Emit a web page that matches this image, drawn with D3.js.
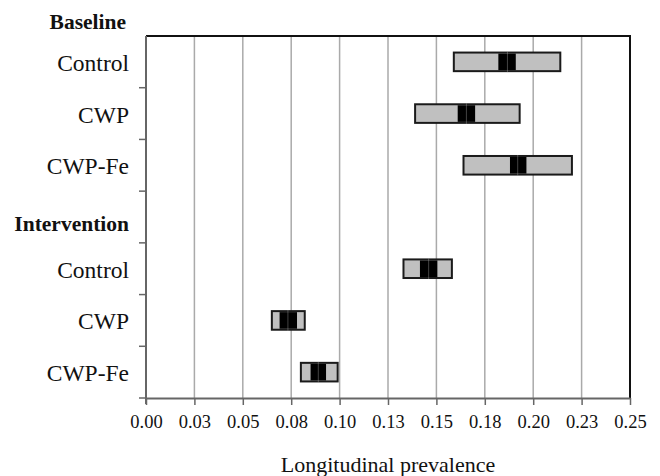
<!DOCTYPE html>
<html>
<head>
<meta charset="utf-8">
<script src="https://cdn.jsdelivr.net/npm/d3@7"></script>
<style>
  body { margin: 0; background: #fff; }
</style>
</head>
<body>
<div id="chart"></div>
<script>
// data
const groups = ['Baseline', 'Intervention'];
const arms = ['Control', 'CWP', 'CWP-Fe'];
const rangeLow = [[0.159, 0.139, 0.164], [0.133, 0.065, 0.080]];
const rangeHigh = [[0.214, 0.193, 0.220], [0.158, 0.082, 0.099]];
const ciLow = [[0.182, 0.161, 0.188], [0.1415, 0.069, 0.085]];
const ciHigh = [[0.191, 0.170, 0.1965], [0.1505, 0.078, 0.093]];
const means = [[0.1867, 0.1655, 0.192], [0.146, 0.0733, 0.089]];
const tickValues = [0, 0.025, 0.05, 0.075, 0.1, 0.125, 0.15, 0.175, 0.2, 0.225, 0.25];
const tickLabels = ['0.00', '0.03', '0.05', '0.08', '0.10', '0.13', '0.15', '0.18', '0.20', '0.23', '0.25'];

const FONT = '"Liberation Serif", "Times New Roman", serif';
const W = 660, H = 476;
const margin = {top: 36, right: 30, bottom: 78, left: 146};
const w = W - margin.left - margin.right;
const h = H - margin.top - margin.bottom;

const svg = d3.select('#chart').append('svg')
    .attr('width', W)
    .attr('height', H)
    .style('font-family', FONT);

const g = svg.append('g')
    .attr('transform', `translate(${margin.left},${margin.top})`);

// rows: 3 baseline arms, an intervention header row, 3 intervention arms
const rows = [];
arms.forEach((a, i) => rows.push({key: 'b' + i, label: a, gi: 0, ai: i}));
rows.push({key: 'ihead', label: groups[1], header: true});
arms.forEach((a, i) => rows.push({key: 'i' + i, label: a, gi: 1, ai: i}));

const x = d3.scaleLinear().domain([0, 0.25]).range([0, w]);
const y = d3.scaleBand().domain(rows.map(r => r.key)).range([0, h]).padding(0);

// gridlines
g.selectAll('.grid').data(tickValues.slice(1, -1)).enter()
    .append('line')
    .attr('x1', d => x(d)).attr('x2', d => x(d))
    .attr('y1', 0).attr('y2', h)
    .attr('stroke', '#aaa').attr('stroke-width', 1.5);

// top + right frame
g.append('path')
    .attr('d', `M0,0H${w}V${h}`)
    .attr('fill', 'none').attr('stroke', '#111').attr('stroke-width', 2);

// x axis
const xAxis = g.append('g')
    .attr('transform', `translate(0,${h})`)
    .call(d3.axisBottom(x).tickValues(tickValues).tickFormat((d, i) => tickLabels[i])
        .tickSize(7).tickSizeOuter(0).tickPadding(10));
xAxis.attr('font-family', null);
xAxis.select('.domain').attr('stroke', '#666').attr('stroke-width', 2);
xAxis.selectAll('.tick line').attr('stroke', '#666').attr('stroke-width', 1.5);
xAxis.selectAll('.tick text')
    .style('font-family', FONT).style('font-size', '18.5px').attr('fill', '#111');

// y axis: ticks at row boundaries
const yBounds = rows.map(r => y(r.key)).slice(1).concat([h]);
const yAxis = g.append('g');
yAxis.append('line')
    .attr('x1', 0).attr('x2', 0).attr('y1', 0).attr('y2', h + 6)
    .attr('stroke', '#666').attr('stroke-width', 2);
yAxis.selectAll('.ytick').data(yBounds).enter()
    .append('line')
    .attr('x1', -7).attr('x2', 0)
    .attr('y1', d => d).attr('y2', d => d)
    .attr('stroke', '#666').attr('stroke-width', 1.5);

// row labels
g.selectAll('.rowlabel').data(rows).enter()
    .append('text')
    .attr('x', -17)
    .attr('y', d => y(d.key) + y.bandwidth() / 2 + (d.header ? 14 : 9))
    .attr('text-anchor', 'end')
    .attr('fill', '#111')
    .style('font-family', FONT)
    .style('font-size', d => d.header ? '21.5px' : '23.5px')
    .style('font-weight', d => d.header ? 'bold' : 'normal')
    .text(d => d.label);

g.append('text')
    .attr('x', -20).attr('y', -7)
    .attr('text-anchor', 'end')
    .attr('fill', '#111')
    .style('font-family', FONT)
    .style('font-size', '21.5px').style('font-weight', 'bold')
    .text(groups[0]);

// boxes
const boxH = 18.6;
const data = rows.filter(r => !r.header);
const box = g.selectAll('.box').data(data).enter().append('g')
    .attr('transform', d => `translate(0,${y(d.key) + y.bandwidth() / 2 - boxH / 2})`);

box.append('rect')
    .attr('x', d => x(rangeLow[d.gi][d.ai]))
    .attr('width', d => x(rangeHigh[d.gi][d.ai]) - x(rangeLow[d.gi][d.ai]))
    .attr('height', boxH)
    .attr('fill', '#c0c0c0').attr('stroke', '#1a1a1a').attr('stroke-width', 2);

box.append('rect')
    .attr('x', d => x(ciLow[d.gi][d.ai]))
    .attr('width', d => x(ciHigh[d.gi][d.ai]) - x(ciLow[d.gi][d.ai]))
    .attr('y', 1).attr('height', boxH - 2)
    .attr('fill', '#000');

box.append('line')
    .attr('x1', d => x(means[d.gi][d.ai])).attr('x2', d => x(means[d.gi][d.ai]))
    .attr('y1', -1).attr('y2', boxH + 1)
    .attr('stroke', '#bbb').attr('stroke-width', 0.6).attr('stroke-opacity', 0.6);

// x title
svg.append('text')
    .attr('x', margin.left + w / 2).attr('y', 472)
    .attr('text-anchor', 'middle')
    .attr('fill', '#111')
    .style('font-family', FONT)
    .style('font-size', '22px')
    .text('Longitudinal prevalence');
</script>
</body>
</html>
